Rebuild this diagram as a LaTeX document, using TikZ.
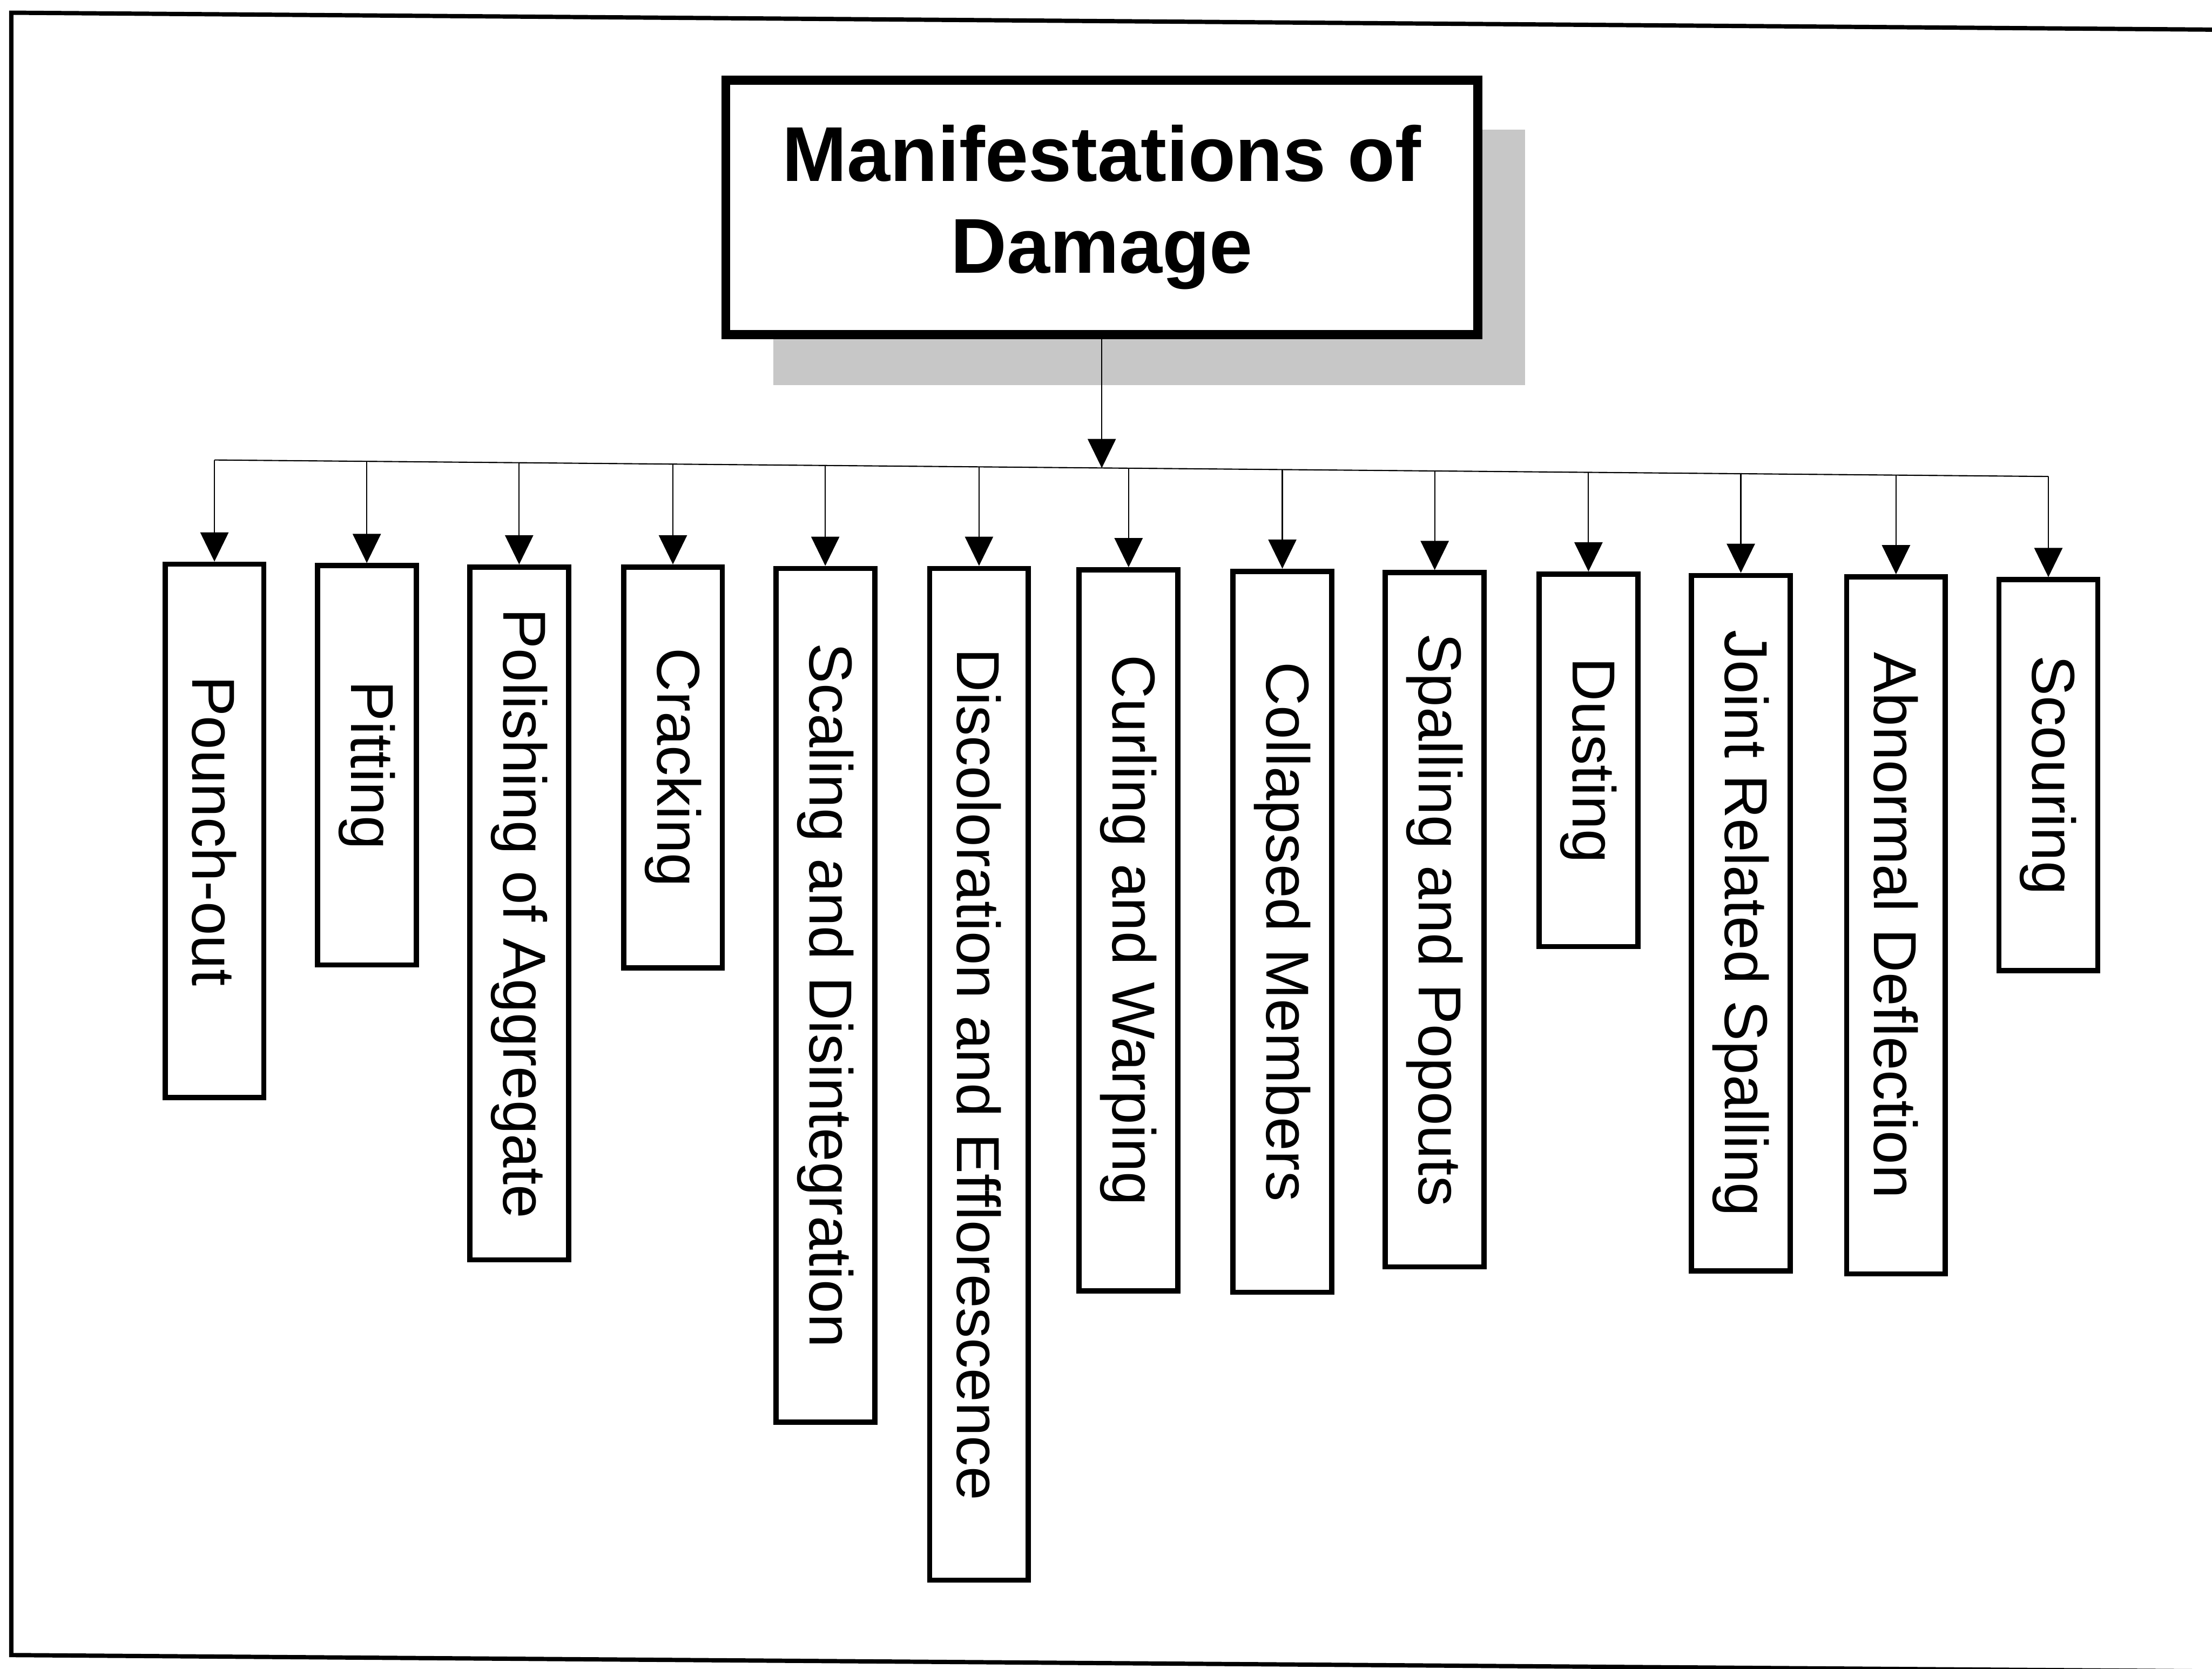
\documentclass[tikz,border=0pt]{standalone}
\usepackage{fontspec}
\setmainfont{Liberation Sans}
\usetikzlibrary{arrows.meta}
\begin{document}
\begin{tikzpicture}[x=0.03cm, y=-0.03cm,
  frameline/.style={line width=2.6pt, line join=miter},
  titlebox/.style={draw, line width=5.5pt, fill=white, inner sep=0pt,
    minimum width={533*0.03cm}, minimum height={180*0.03cm},
    align=center, font=\fontsize{47}{55.5}\selectfont\bfseries},
  leaf/.style={draw, line width=3.2pt, fill=white, inner sep=0pt,
    rotate=-90, anchor=west,
    minimum height={70*0.03cm}, minimum width={(#1-4)*0.03cm},
    font=\fontsize{36.7}{44}\selectfont},
  shadowfill/.style={fill=black!22},
  link/.style={line width=0.7pt},
  arr/.style={link, -{Triangle[length=0.62cm, width=0.6cm]}},
]
% page
\fill[white] (0,0) rectangle (1568,1182.7);
\useasboundingbox (0,0) rectangle (1568,1182.7);

% outer frame, open on the right
\draw[frameline] (1568,21) -- (8,9) -- (8,1173) -- (1568,1184.5);

% title with its drop shadow
\fill[shadowfill] (548,92) rectangle (1081,273);
\node[titlebox] (title) at (781,147) {Manifestations of\\Damage};
\coordinate (bm) at (781,331.7);

% the thirteen manifestations, hanging from the bus
\foreach \i/\x/\top/\len/\by/\txt in {
  1/152/398/382/326.0/Pounch-out,
  2/260/399/287/327.0/Pitting,
  3/368/400/495/327.9/Polishing of Aggregate,
  4/477/400/288/328.9/Cracking,
  5/585/401/609/329.9/Scaling and Disintegration,
  6/694/401/721/330.9/Discoloration and Efflorescence,
  7/800/402/515/331.8/Curling and Warping,
  8/909/403/515/332.8/Collapsed Members,
  9/1017/404/496/333.8/Spalling and Popouts,
  10/1126/405/268/334.8/Dusting,
  11/1234/406/497/335.7/Joint Related Spalling,
  12/1344/407/498/336.7/Abnormal Deflection,
  13/1452/409/281/337.7/Scouring}
{
  \coordinate (b\i) at (\x,\by);
  \node[leaf=\len] (n\i) at (\x,\top) {\txt};
  \draw[arr] (b\i) -- (n\i.west);
}

% bus and the link from the title
\draw[link] (b1) -- (b13);
\draw[arr] (title.south) -- (bm);
\end{tikzpicture}
\end{document}
